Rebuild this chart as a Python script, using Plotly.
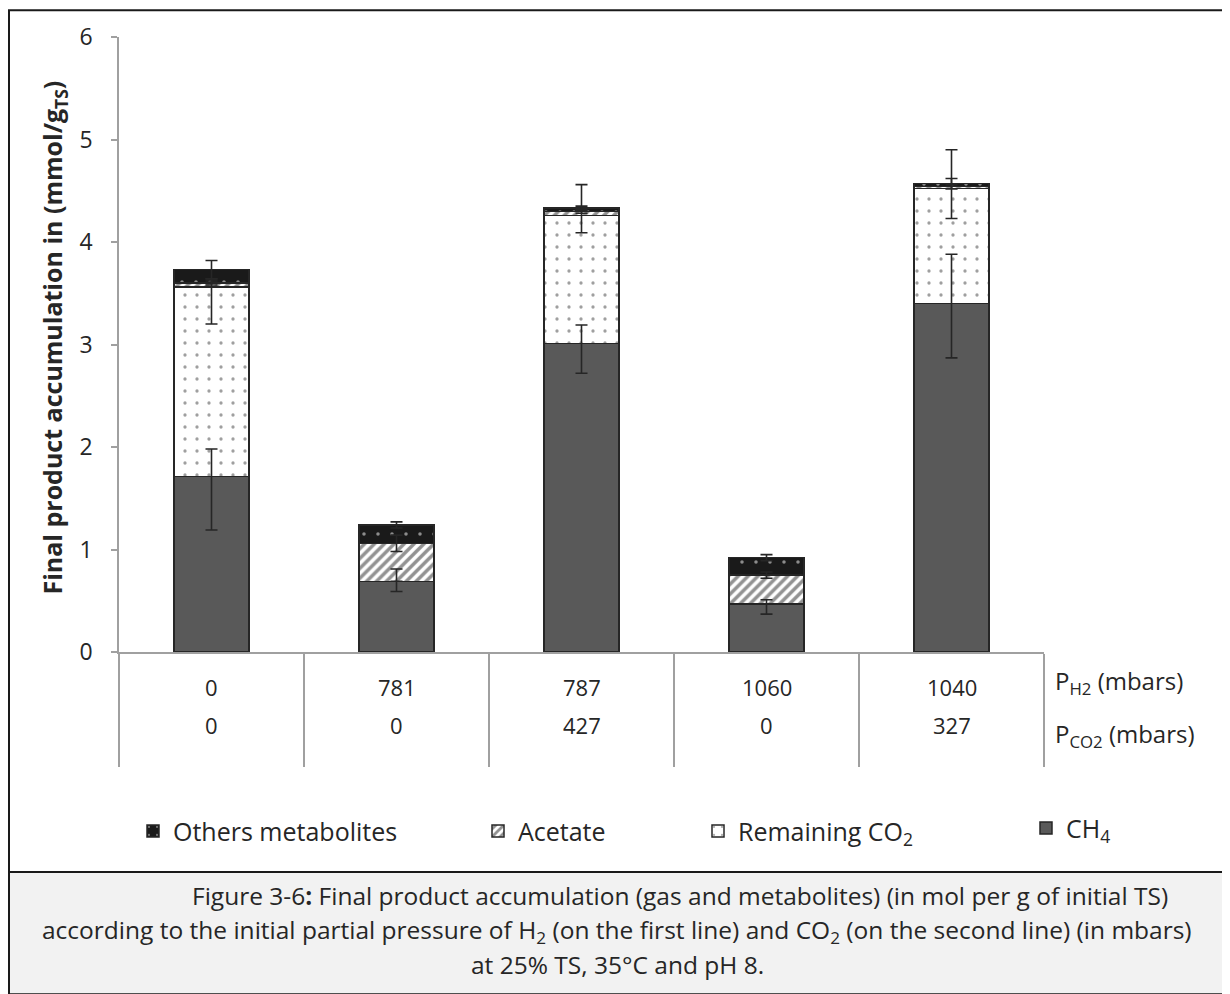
import numpy as np
import plotly.graph_objects as go

# ---- data ----
p_h2 = ["0", "781", "787", "1060", "1040"]
p_co2 = ["0", "0", "427", "0", "327"]
cats = ["A", "B", "C", "D", "E"]

ch4 = [1.71, 0.69, 3.01, 0.47, 3.40]
co2 = [1.85, 0.00, 1.25, 0.00, 1.12]
acetate = [0.04, 0.37, 0.04, 0.28, 0.02]
others = [0.13, 0.18, 0.03, 0.17, 0.03]

ch4_err_plus = [0.27, 0.12, 0.18, 0.04, 0.48]
ch4_err_minus = [0.52, 0.10, 0.29, 0.10, 0.53]
co2_err_plus = [0.08, 0.0, 0.30, 0.0, 0.38]
co2_err_minus = [0.36, 0.0, 0.17, 0.0, 0.29]
ace_err_plus = [0.02, 0.08, 0.02, 0.03, 0.02]
ace_err_minus = [0.02, 0.08, 0.02, 0.03, 0.02]
oth_err_plus = [0.09, 0.03, 0.02, 0.03, 0.05]
oth_err_minus = [0.09, 0.03, 0.02, 0.03, 0.05]

# ---- geometry helpers (screenshot pixel -> paper); page body has an 8px margin ----
OFF = 8
W, H = 1230 - OFF, 994 - OFF
L, R, T, B = 119, 1044, 34, 652
def px(x):
    return (x - L) / (R - L)
def py(y):
    return (B - y) / (B - T)

FONT = "Open Sans"
TXT = "#262626"
AX = "#a0a0a0"
EDGE = "#262626"

fig = go.Figure()

series = [
    ("CH<sub>4</sub>", ch4, dict(color="#595959"), "legend4"),
    ("Remaining CO<sub>2</sub>", co2,
     dict(color="white", pattern=dict(shape=".", fgcolor="#404040", bgcolor="white", size=12, solidity=0.06)),
     "legend3"),
    ("Acetate", acetate,
     dict(color="white", pattern=dict(shape="/", fgcolor="#262626", bgcolor="white", size=7, solidity=0.5)),
     "legend2"),
    ("Others metabolites", others,
     dict(color="#1a1a1a", pattern=dict(shape=".", fgcolor="white", bgcolor="#1a1a1a", size=14, solidity=0.05)),
     "legend"),
]
for name, vals, mk, lg in series:
    mk = dict(mk)
    mk["line"] = dict(color=EDGE, width=1.5)
    fig.add_trace(go.Bar(x=cats, y=vals, name=name, marker=mk, legend=lg, hoverinfo="skip"))

# error bars on top of all segments, positioned at the cumulative tops
tops = np.cumsum(np.array([ch4, co2, acetate, others]), axis=0)
errs = [(ch4_err_plus, ch4_err_minus), (co2_err_plus, co2_err_minus),
        (ace_err_plus, ace_err_minus), (oth_err_plus, oth_err_minus)]
for i, (ep, em) in enumerate(errs):
    fig.add_trace(go.Scatter(
        x=cats, y=tops[i], mode="markers",
        marker=dict(size=1, color="rgba(0,0,0,0)"),
        error_y=dict(type="data", symmetric=False, array=ep, arrayminus=em,
                     color="#262626", thickness=1.6, width=6),
        showlegend=False, hoverinfo="skip"))

legend_common = dict(orientation="h", yanchor="middle", xanchor="left",
                     bgcolor="rgba(0,0,0,0)", font=dict(family=FONT, size=25, color=TXT),
                     itemwidth=30)
fig.update_layout(
    width=W, height=H, autosize=False,
    margin=dict(l=L - OFF, r=W - (R - OFF), t=T - OFF, b=H - (B - OFF)),
    paper_bgcolor="white", plot_bgcolor="white",
    barmode="stack", bargap=0.595,
    font=dict(family=FONT, color=TXT),
    legend=dict(x=px(133), y=py(832), **legend_common),
    legend2=dict(x=px(478), y=py(832), **legend_common),
    legend3=dict(x=px(698), y=py(832), **legend_common),
    legend4=dict(x=px(1026), y=py(829), **legend_common),
    xaxis=dict(type="category", range=[-0.5, 4.5], showline=True, linecolor=AX, linewidth=1.5,
               ticks="outside", tickson="boundaries", ticklen=113, tickcolor=AX, tickwidth=1.5,
               showticklabels=False, showgrid=False, zeroline=False, fixedrange=True),
    yaxis=dict(range=[0, 6], dtick=1, showline=True, linecolor=AX, linewidth=1.5,
               ticks="outside", ticklen=6, tickcolor=AX, tickwidth=1.5,
               tickfont=dict(family=FONT, size=23, color=TXT), ticklabelstandoff=14,
               showgrid=False, zeroline=False, fixedrange=True),
)

def note(**kw):
    kw.setdefault("xanchor", "center")
    kw.setdefault("yanchor", "middle")
    kw.setdefault("showarrow", False)
    kw.setdefault("yref", "paper")
    kw.setdefault("xref", "paper")
    fig.add_annotation(**kw)

# category rows
for c, h, o in zip(cats, p_h2, p_co2):
    note(x=c, xref="x", y=py(687), text=h, font=dict(family=FONT, size=22, color=TXT))
    note(x=c, xref="x", y=py(725), text=o, font=dict(family=FONT, size=22, color=TXT))
note(x=px(1053), y=py(682), xanchor="left", text="P<sub>H2</sub> (mbars)",
     font=dict(family=FONT, size=24, color=TXT))
note(x=px(1053), y=py(735), xanchor="left", text="P<sub>CO2</sub> (mbars)",
     font=dict(family=FONT, size=24, color=TXT))

# y title
note(x=px(54), y=py(336), textangle=-90,
     text="<b>Final product accumulation in (mmol/g<sub>TS</sub>)</b>",
     font=dict(family=FONT, size=25, color=TXT))

# frames
fig.add_shape(type="rect", xref="paper", yref="paper", x0=px(9), x1=px(1228), y0=py(873), y1=py(7),
              line=dict(color="#1a1a1a", width=2), fillcolor="rgba(0,0,0,0)", layer="below")
fig.add_shape(type="rect", xref="paper", yref="paper", x0=px(9), x1=px(1228), y0=py(996), y1=py(873),
              line=dict(color="#1a1a1a", width=2), fillcolor="#f2f2f2", layer="below")

cap = [
    ("Figure 3-6<b>:</b> Final product accumulation (gas and metabolites) (in mol per g of initial TS)", 680, 897),
    ("according to the initial partial pressure of H<sub>2</sub> (on the first line) and CO<sub>2</sub> (on the second line) (in mbars)", 617, 932),
    ("at 25% TS, 35°C and pH 8.", 617, 966),
]
for t, x, y in cap:
    note(x=px(x), y=py(y), text=t, font=dict(family=FONT, size=24.5, color=TXT))

fig.write_html("out.html")
